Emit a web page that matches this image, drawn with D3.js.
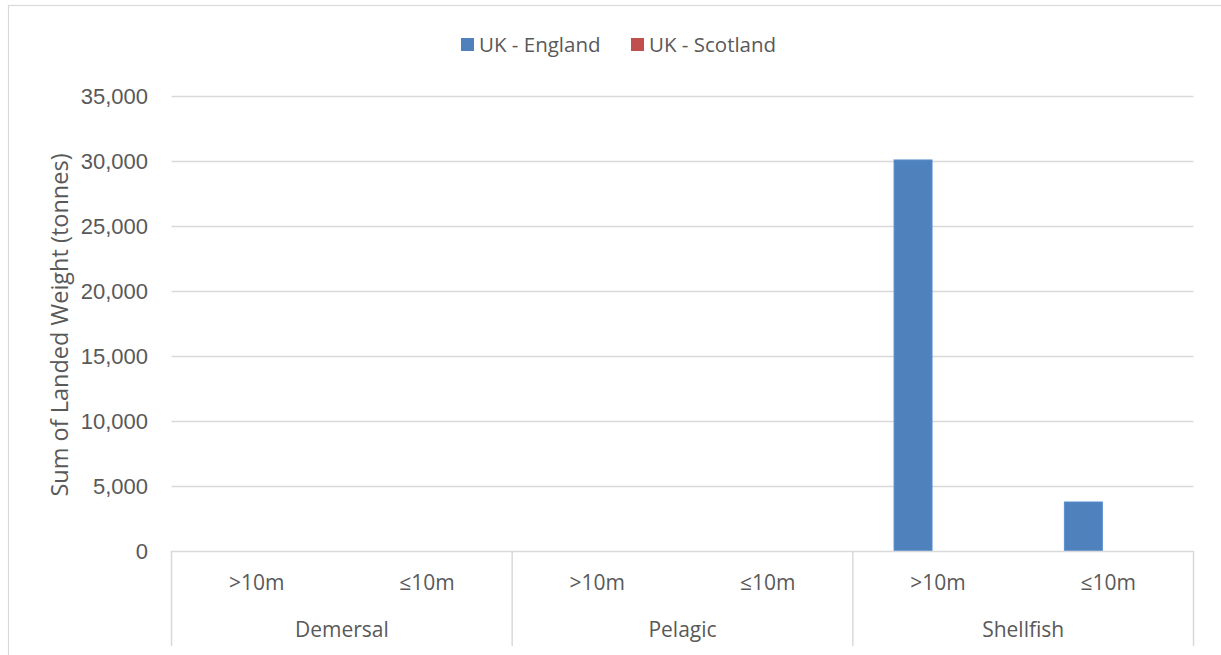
<!DOCTYPE html>
<html>
<head>
<meta charset="utf-8">
<script src="https://cdn.jsdelivr.net/npm/d3@7/dist/d3.min.js"></script>
<style>
  html, body { margin: 0; padding: 0; background: #fff; }
  svg { display: block; font-family: "Open Sans", "Noto Sans", sans-serif; }
</style>
</head>
<body>
<svg id="chart" width="1221" height="655"></svg>
<script>
// Landed weight by species group and vessel length
const groups = ["Demersal", "Pelagic", "Shellfish"];
const lengths = [">10m", "\u226410m"];
const seriesNames = ["UK - England", "UK - Scotland"];
const seriesColors = ["#4f81bd", "#c0504d"];
// values in category order: Demersal >10m, Demersal ≤10m, Pelagic >10m, Pelagic ≤10m, Shellfish >10m, Shellfish ≤10m
const englandValues = [0, 0, 0, 0, 30080, 3770];
const scotlandValues = [0, 0, 0, 0, 0, 0];
const yTicks = [0, 5000, 10000, 15000, 20000, 25000, 30000, 35000];

const svg = d3.select("#chart");
const margin = { left: 171.5, right: 1193.5, top: 96, bottom: 551 };

// outer chart frame
svg.append("rect")
  .attr("x", 8.5).attr("y", 5.5)
  .attr("width", 1240).attr("height", 700)
  .attr("fill", "#fff").attr("stroke", "#d9d9d9").attr("stroke-width", 1.2);

const categories = [];
groups.forEach(g => lengths.forEach(l => categories.push({ group: g, length: l, key: g + "|" + l })));
const series = [englandValues, scotlandValues];

const x0 = d3.scaleBand().domain(groups).range([margin.left, margin.right]);
const x = d3.scaleBand().domain(categories.map(c => c.key)).range([margin.left, margin.right]);
const y = d3.scaleLinear().domain([0, 35000]).range([margin.bottom, margin.top]);

// series offset inside each category
const bw = x.bandwidth();
const xs = d3.scaleBand().domain(seriesNames).range([-0.293 * bw, 0.293 * bw]);
const barW = bw * 0.223;

// gridlines
svg.append("g")
  .selectAll("line")
  .data(yTicks.filter(t => t > 0))
  .join("line")
  .attr("x1", margin.left).attr("x2", margin.right)
  .attr("y1", d => Math.round(y(d)) + 0.5).attr("y2", d => Math.round(y(d)) + 0.5)
  .attr("stroke", "#d9d9d9").attr("stroke-width", 1.5);

// y axis labels
const yAxis = d3.axisLeft(y).tickValues(yTicks).tickFormat(d3.format(",")).tickSize(0).tickPadding(0);
const yg = svg.append("g").attr("transform", "translate(148,0)").call(yAxis);
yg.select(".domain").remove();
yg.selectAll("text")
  .attr("fill", "#595959").attr("font-size", 22).attr("dy", "0.35em");

// y axis title
svg.append("text")
  .attr("transform", "translate(60,325) rotate(-90)")
  .attr("text-anchor", "middle").attr("dy", "0.35em")
  .attr("fill", "#595959").attr("font-size", 23.5)
  .text("Sum of Landed Weight (tonnes)");

// bars
seriesNames.forEach((name, si) => {
  svg.append("g")
    .selectAll("rect")
    .data(categories.map((c, i) => ({ key: c.key, value: series[si][i] })))
    .join("rect")
    .attr("x", d => x(d.key) + bw / 2 + xs(name) + xs.bandwidth() / 2 - barW / 2)
    .attr("y", d => y(d.value))
    .attr("width", barW)
    .attr("height", d => y(0) - y(d.value))
    .attr("fill", seriesColors[si])
    .attr("stroke", d => d.value > 0 ? d3.color(seriesColors[si]).brighter(0.3) : "none")
    .attr("stroke-width", 1);
});

// category axis: baseline and group dividers
const axisG = svg.append("g").attr("stroke", "#d9d9d9").attr("stroke-width", 1.5);
axisG.append("line")
  .attr("x1", margin.left).attr("x2", margin.right)
  .attr("y1", margin.bottom + 0.5).attr("y2", margin.bottom + 0.5);
const dividers = groups.map(g => x0(g)).concat([margin.right]);
axisG.selectAll("line.div")
  .data(dividers)
  .join("line")
  .attr("class", "div")
  .attr("x1", d => d).attr("x2", d => d)
  .attr("y1", margin.bottom).attr("y2", 646);

// inner category labels
svg.append("g")
  .selectAll("text")
  .data(categories)
  .join("text")
  .attr("x", d => x(d.key) + bw / 2)
  .attr("y", 583).attr("dy", "0.35em")
  .attr("text-anchor", "middle")
  .attr("fill", "#595959").attr("font-size", 21)
  .text(d => d.length);

// outer group labels
svg.append("g")
  .selectAll("text")
  .data(groups)
  .join("text")
  .attr("x", d => x0(d) + x0.bandwidth() / 2)
  .attr("y", 630).attr("dy", "0.35em")
  .attr("text-anchor", "middle")
  .attr("fill", "#595959").attr("font-size", 21)
  .text(d => d);

// legend
const legendX = [461, 631];
const legend = svg.append("g");
seriesNames.forEach((name, i) => {
  legend.append("rect")
    .attr("x", legendX[i]).attr("y", 38)
    .attr("width", 13).attr("height", 13)
    .attr("fill", seriesColors[i]);
  legend.append("text")
    .attr("x", legendX[i] + 18).attr("y", 45).attr("dy", "0.35em")
    .attr("fill", "#595959").attr("font-size", 20.5)
    .text(name);
});
</script>
</body>
</html>
